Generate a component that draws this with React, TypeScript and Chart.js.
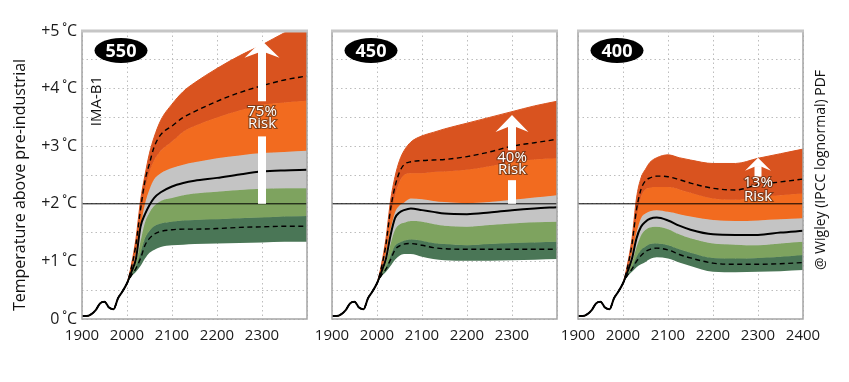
import React, { useEffect, useRef } from 'react';
import { Chart, registerables } from 'chart.js';
Chart.register(...registerables);

// ---------- data ----------
const YEARS = [1900, 1910, 1920, 1930, 1940, 1950, 1960, 1970, 1980, 1990, 2000,
  2010, 2020, 2030, 2040, 2050, 2060, 2075, 2100, 2125, 2150, 2200, 2250, 2300, 2350, 2400];
const HIST = [0.05, 0.05, 0.08, 0.15, 0.27, 0.3, 0.2, 0.17, 0.36, 0.48, 0.62];
const X_TICKS = [1900, 2000, 2100, 2200, 2300, 2400];
const Y_TICK_LABELS = ['0\u2009˚C', '+1\u2009˚C', '+2\u2009˚C', '+3\u2009˚C', '+4\u2009˚C', '+5\u2009˚C'];
const THRESHOLD = 2;
const PANEL_NAMES = ['550', '450', '400'];
const RISK_LABELS = ['75%', '40%', '13%'];

// 550 ppm (future, 2010..2400)
const P550_RED_TOP = [0.95, 1.4, 2.05, 2.5, 2.88, 3.15, 3.45, 3.73, 3.95, 4.1, 4.35, 4.57, 4.76, 4.97, 5.15];
const P550_UPPER = [0.9, 1.3, 1.9, 2.4, 2.7, 2.98, 3.2, 3.35, 3.5, 3.6, 3.78, 3.93, 4.05, 4.15, 4.22];
const P550_ORANGE_TOP = [0.9, 1.25, 1.8, 2.25, 2.55, 2.75, 2.92, 3.08, 3.25, 3.35, 3.5, 3.62, 3.72, 3.76, 3.79];
const P550_GREY_TOP = [0.85, 1.15, 1.6, 2.0, 2.25, 2.42, 2.53, 2.62, 2.68, 2.72, 2.79, 2.84, 2.88, 2.9, 2.92];
const P550_MEDIAN = [0.82, 1.05, 1.6, 1.82, 1.98, 2.1, 2.2, 2.3, 2.36, 2.4, 2.45, 2.51, 2.56, 2.58, 2.59];
const P550_GREEN_TOP = [0.8, 0.98, 1.35, 1.68, 1.85, 1.96, 2.05, 2.1, 2.15, 2.18, 2.21, 2.24, 2.26, 2.27, 2.27];
const P550_DKGREEN_TOP = [0.77, 0.92, 1.15, 1.4, 1.53, 1.61, 1.66, 1.69, 1.71, 1.72, 1.73, 1.75, 1.76, 1.78, 1.79];
const P550_LOWER = [0.76, 0.88, 1.05, 1.28, 1.4, 1.47, 1.52, 1.55, 1.56, 1.56, 1.57, 1.59, 1.6, 1.61, 1.61];
const P550_BOTTOM = [0.74, 0.82, 0.92, 1.05, 1.15, 1.2, 1.25, 1.28, 1.29, 1.3, 1.31, 1.32, 1.33, 1.34, 1.34];

// 450 ppm
const P450_RED_TOP = [0.95, 1.4, 2.05, 2.47, 2.75, 2.92, 3.07, 3.18, 3.24, 3.3, 3.4, 3.5, 3.6, 3.7, 3.78];
const P450_UPPER = [0.9, 1.3, 1.9, 2.3, 2.55, 2.68, 2.73, 2.75, 2.76, 2.77, 2.82, 2.9, 3.0, 3.06, 3.12];
const P450_ORANGE_TOP = [0.88, 1.25, 1.75, 2.15, 2.38, 2.5, 2.53, 2.53, 2.55, 2.56, 2.59, 2.65, 2.73, 2.77, 2.79];
const P450_GREY_TOP = [0.85, 1.15, 1.55, 1.85, 1.97, 2.02, 2.09, 2.08, 2.05, 2.03, 2.01, 2.03, 2.07, 2.11, 2.15];
const P450_MEDIAN = [0.82, 1.05, 1.45, 1.75, 1.85, 1.89, 1.92, 1.89, 1.86, 1.83, 1.82, 1.85, 1.89, 1.92, 1.94];
const P450_GREEN_TOP = [0.8, 0.98, 1.3, 1.55, 1.64, 1.67, 1.7, 1.69, 1.65, 1.62, 1.6, 1.63, 1.66, 1.68, 1.69];
const P450_DKGREEN_TOP = [0.77, 0.9, 1.1, 1.27, 1.33, 1.36, 1.38, 1.36, 1.32, 1.3, 1.28, 1.3, 1.32, 1.33, 1.34];
const P450_LOWER = [0.76, 0.87, 1.03, 1.2, 1.27, 1.3, 1.31, 1.28, 1.24, 1.22, 1.21, 1.21, 1.21, 1.21, 1.21];
const P450_BOTTOM = [0.74, 0.82, 0.92, 1.03, 1.1, 1.13, 1.13, 1.08, 1.04, 1.02, 1.01, 1.01, 1.02, 1.03, 1.04];

// 400 ppm
const P400_RED_TOP = [0.95, 1.4, 2.1, 2.45, 2.6, 2.72, 2.8, 2.85, 2.8, 2.76, 2.7, 2.7, 2.79, 2.87, 2.95];
const P400_UPPER = [0.9, 1.3, 1.9, 2.25, 2.4, 2.45, 2.48, 2.47, 2.42, 2.36, 2.27, 2.24, 2.33, 2.38, 2.43];
const P400_ORANGE_TOP = [0.88, 1.25, 1.75, 2.12, 2.25, 2.28, 2.29, 2.29, 2.25, 2.19, 2.09, 2.07, 2.12, 2.15, 2.18];
const P400_GREY_TOP = [0.85, 1.15, 1.5, 1.75, 1.83, 1.87, 1.89, 1.86, 1.82, 1.78, 1.72, 1.7, 1.71, 1.73, 1.75];
const P400_MEDIAN = [0.82, 1.05, 1.4, 1.6, 1.69, 1.74, 1.76, 1.71, 1.62, 1.55, 1.47, 1.46, 1.46, 1.5, 1.53];
const P400_GREEN_TOP = [0.8, 0.98, 1.25, 1.45, 1.55, 1.59, 1.6, 1.56, 1.47, 1.4, 1.31, 1.29, 1.28, 1.31, 1.34];
const P400_DKGREEN_TOP = [0.77, 0.9, 1.08, 1.2, 1.26, 1.3, 1.31, 1.28, 1.21, 1.15, 1.06, 1.05, 1.06, 1.08, 1.11];
const P400_LOWER = [0.76, 0.87, 1.0, 1.1, 1.17, 1.21, 1.23, 1.2, 1.12, 1.06, 0.97, 0.95, 0.95, 0.96, 0.98];
const P400_BOTTOM = [0.74, 0.82, 0.9, 0.95, 0.99, 1.04, 1.07, 1.05, 0.98, 0.92, 0.82, 0.81, 0.82, 0.83, 0.85];

// ---------- styles / layout ----------
const FONT = '"Open Sans", "Noto Sans", sans-serif';
const COLORS = {
  red: '#d9531f', orange: '#f26b1f', grey: '#c4c4c4', green: '#7ea35f', dkgreen: '#4a7656',
};

const PANELS = [
  {
    name: PANEL_NAMES[0], risk: RISK_LABELS[0], showLast: false, yAxis: true,
    area: { left: 82, right: 307 },
    series: [P550_RED_TOP, P550_ORANGE_TOP, P550_GREY_TOP, P550_GREEN_TOP, P550_DKGREEN_TOP, P550_BOTTOM],
    median: P550_MEDIAN, upper: P550_UPPER, lower: P550_LOWER,
    arrow: { x: 2300, tip: 4.83, headH: 17, headW: 35, shaftW: 8, base: 2, gap: [3.78, 3.17], textY: [3.6, 3.39] },
  },
  {
    name: PANEL_NAMES[1], risk: RISK_LABELS[1], showLast: false, yAxis: false,
    area: { left: 332, right: 557 },
    series: [P450_RED_TOP, P450_ORANGE_TOP, P450_GREY_TOP, P450_GREEN_TOP, P450_DKGREEN_TOP, P450_BOTTOM],
    median: P450_MEDIAN, upper: P450_UPPER, lower: P450_LOWER,
    arrow: { x: 2300, tip: 3.54, headH: 17, headW: 33, shaftW: 8, base: 2, gap: [2.93, 2.41], textY: [2.8, 2.59] },
  },
  {
    name: PANEL_NAMES[2], risk: RISK_LABELS[2], showLast: true, yAxis: false,
    area: { left: 578, right: 803 },
    series: [P400_RED_TOP, P400_ORANGE_TOP, P400_GREY_TOP, P400_GREEN_TOP, P400_DKGREEN_TOP, P400_BOTTOM],
    median: P400_MEDIAN, upper: P400_UPPER, lower: P400_LOWER,
    arrow: { x: 2300, tip: 2.8, headH: 13, headW: 26, shaftW: 7, base: 2.47, gap: null, textY: [2.36, 2.12] },
  },
];

const W = 849, H = 382, TOP = 31, BOTTOM = 319;

function toPts(future: number[]) {
  const vals = HIST.concat(future);
  return YEARS.map((x, i) => ({ x, y: vals[i] }));
}

function drawArrow(ctx: CanvasRenderingContext2D, chart: any, panel: any) {
  const xs = chart.scales.x, ys = chart.scales.y;
  const a = panel.arrow;
  const cx = xs.getPixelForValue(a.x);
  const tip = ys.getPixelForValue(a.tip);
  const hb = tip + a.headH;
  const base = ys.getPixelForValue(a.base);
  ctx.save();
  ctx.fillStyle = '#ffffff';
  ctx.beginPath();
  ctx.moveTo(cx, tip);
  ctx.lineTo(cx + a.headW / 2, hb);
  ctx.lineTo(cx + a.shaftW / 2, hb - a.headH * 0.3);
  ctx.lineTo(cx - a.shaftW / 2, hb - a.headH * 0.3);
  ctx.lineTo(cx - a.headW / 2, hb);
  ctx.closePath();
  ctx.fill();
  const sTop = hb - a.headH * 0.35;
  if (a.gap) {
    const g1 = ys.getPixelForValue(a.gap[0]);
    const g2 = ys.getPixelForValue(a.gap[1]);
    ctx.fillRect(cx - a.shaftW / 2, sTop, a.shaftW, g1 - sTop);
    ctx.fillRect(cx - a.shaftW / 2, g2, a.shaftW, base - g2);
  } else {
    ctx.fillRect(cx - a.shaftW / 2, sTop, a.shaftW, base - sTop);
  }
  ctx.font = `15px ${FONT}`;
  ctx.textAlign = 'center';
  ctx.textBaseline = 'middle';
  const lines = [panel.risk, 'Risk'];
  lines.forEach((t, i) => {
    const ty = ys.getPixelForValue(a.textY[i]);
    ctx.lineWidth = 2.2;
    ctx.strokeStyle = 'rgba(70,40,20,0.6)';
    ctx.strokeText(t, cx, ty);
    ctx.fillStyle = '#ffffff';
    ctx.fillText(t, cx, ty);
  });
  ctx.restore();
}

function makeConfig(panel: any, index: number) {
  const bandColors = [COLORS.red, COLORS.orange, COLORS.grey, COLORS.green, COLORS.dkgreen, 'rgba(0,0,0,0)'];
  const bands = panel.series.map((s: number[], i: number) => ({
    data: toPts(s),
    fill: i < 5 ? '+1' : false,
    backgroundColor: bandColors[i],
    borderColor: bandColors[i],
    borderWidth: i < 5 ? 1 : 0,
    pointRadius: 0,
    cubicInterpolationMode: 'monotone',
    order: 3,
  }));
  const lineBase = { pointRadius: 0, fill: false, cubicInterpolationMode: 'monotone', borderColor: '#000' };
  const datasets = [
    ...bands,
    { data: [{ x: 1900, y: THRESHOLD }, { x: 2400, y: THRESHOLD }], borderColor: '#000', borderWidth: 1, pointRadius: 0, fill: false, order: 2 },
    { ...lineBase, data: toPts(panel.median), borderWidth: 2, order: 1 },
    { ...lineBase, data: toPts(panel.upper), borderWidth: 1.4, borderDash: [5, 3.5], order: 1 },
    { ...lineBase, data: toPts(panel.lower), borderWidth: 1.4, borderDash: [5, 3.5], order: 1 },
  ];

  const decor = {
    id: 'decor' + index,
    afterDatasetsDraw(chart: any) {
      const ctx = chart.ctx as CanvasRenderingContext2D;
      const ca = chart.chartArea;
      drawArrow(ctx, chart, panel);
      ctx.save();
      // frame
      ctx.strokeStyle = '#a5a5a5';
      ctx.lineWidth = 1.5;
      ctx.strokeRect(ca.left, ca.top, ca.right - ca.left, ca.bottom - ca.top);
      ctx.strokeStyle = '#c6c6c6';
      ctx.lineWidth = 3;
      ctx.beginPath();
      ctx.moveTo(ca.left - 1, ca.top);
      ctx.lineTo(ca.right + 1, ca.top);
      ctx.stroke();
      // ellipse label
      const ex = ca.left + 39, ey = ca.top + 19.5;
      ctx.fillStyle = '#000';
      ctx.beginPath();
      ctx.ellipse(ex, ey, 26.5, 12.5, 0, 0, Math.PI * 2);
      ctx.fill();
      ctx.fillStyle = '#fff';
      ctx.font = `bold 18px ${FONT}`;
      ctx.textAlign = 'center';
      ctx.textBaseline = 'middle';
      ctx.fillText(panel.name, ex, ey + 1);
      ctx.restore();
    },
    afterDraw(chart: any) {
      const ctx = chart.ctx as CanvasRenderingContext2D;
      ctx.save();
      ctx.fillStyle = '#111';
      ctx.textAlign = 'center';
      ctx.textBaseline = 'middle';
      const rot = (t: string, x: number, y: number, font: string) => {
        ctx.save();
        ctx.translate(x, y);
        ctx.rotate(-Math.PI / 2);
        ctx.font = font;
        ctx.fillText(t, 0, 0);
        ctx.restore();
      };
      if (index === 0) {
        rot('Temperature above pre-industrial', 20, 185, `16px ${FONT}`);
        rot('IMA-B1', 96.5, 101, `15px ${FONT}`);
      }
      if (index === 2) {
        rot('@ Wigley (IPCC lognormal) PDF', 821, 170, `14px ${FONT}`);
      }
      ctx.restore();
    },
  };

  return {
    type: 'line',
    data: { datasets },
    plugins: [decor],
    options: {
      animation: false,
      responsive: false,
      devicePixelRatio: 1,
      layout: { padding: { left: panel.yAxis ? 0 : panel.area.left, right: W - panel.area.right, top: TOP, bottom: 0 } },
      plugins: { legend: { display: false }, tooltip: { enabled: false } },
      scales: {
        x: {
          type: 'linear', min: 1900, max: 2400,
          afterFit: (s: any) => { s.height = H - BOTTOM; },
          afterBuildTicks: (s: any) => { s.ticks = X_TICKS.map((v) => ({ value: v })); },
          ticks: {
            autoSkip: false, maxRotation: 0, padding: 8, color: '#1a1a1a',
            font: { family: FONT, size: 15 },
            callback: (v: number) => (v === 2400 && !panel.showLast ? '' : String(v)),
          },
          grid: { color: '#bdbdbd', lineWidth: 1, drawTicks: false },
          border: { display: false, dash: [1.5, 3] },
        },
        y: {
          min: 0, max: 5,
          afterFit: (s: any) => { s.width = panel.yAxis ? panel.area.left : 0; },
          ticks: {
            stepSize: 0.5, display: panel.yAxis, padding: 5, color: '#1a1a1a',
            font: { family: FONT, size: 16 },
            callback: (v: number) => (Number.isInteger(v) ? Y_TICK_LABELS[v] : ''),
          },
          grid: { color: '#bdbdbd', lineWidth: 1, drawTicks: false },
          border: { display: false, dash: [1.5, 3] },
        },
      },
    },
  };
}

function Panel({ index }: { index: number }) {
  const ref = useRef<HTMLCanvasElement>(null);
  useEffect(() => {
    const chart = new Chart(ref.current as HTMLCanvasElement, makeConfig(PANELS[index], index) as any);
    return () => chart.destroy();
  }, [index]);
  return (
    <canvas ref={ref} width={W} height={H}
      style={{ position: 'absolute', left: 0, top: 0, width: W, height: H }} />
  );
}

export default function App() {
  return (
    <div style={{ position: 'fixed', left: 0, top: 0, width: W, height: H, background: '#fff' }}>
      {PANELS.map((_, i) => <Panel key={i} index={i} />)}
    </div>
  );
}
